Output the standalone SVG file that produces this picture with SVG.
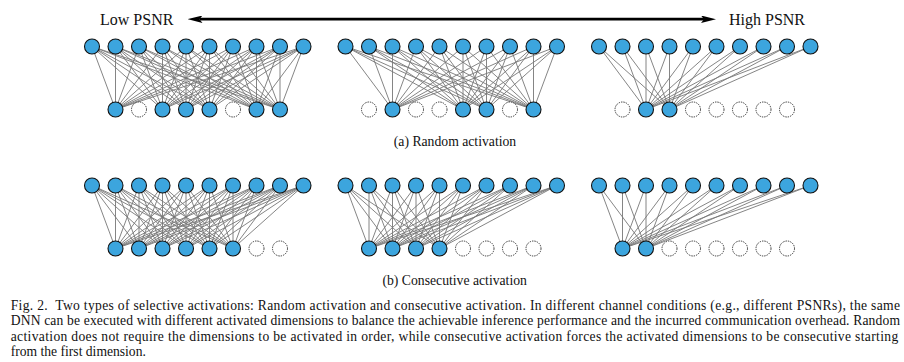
<svg xmlns="http://www.w3.org/2000/svg" xmlns:xlink="http://www.w3.org/1999/xlink" width="904" height="362" viewBox="0 0 904 362">
<style>
.n{fill:#3ca5de;stroke:#111;stroke-width:1.1}
.d{fill:#fff;stroke:#222;stroke-width:0.9;stroke-dasharray:1.4 1}
.edges{stroke:#777;stroke-width:0.9;fill:none}
.lbl{font-family:"Liberation Serif","Times New Roman",serif;font-size:16px;fill:#111}
.sub{font-family:"Liberation Serif","Times New Roman",serif;font-size:13.7px;fill:#111;text-anchor:middle}
.cap{font-family:"Liberation Serif","Times New Roman",serif;font-size:13.6px;fill:#111}
</style>
<defs>
<marker id="ah" viewBox="0 0 15 7.4" markerWidth="15" markerHeight="7.4" refX="3" refY="3.7" orient="auto-start-reverse" markerUnits="userSpaceOnUse">
<path d="M0 0L15 3.7L0 7.4L3 3.7z" fill="#000"/>
</marker>
<path id="f0" d="M0 0L23.5 63M23.5 0L23.5 63M47 0L23.5 63M70.5 0L23.5 63M94 0L23.5 63M117.5 0L23.5 63M141 0L23.5 63M164.5 0L23.5 63M188 0L23.5 63M211.5 0L23.5 63"/>
<path id="f1" d="M0 0L47 63M23.5 0L47 63M47 0L47 63M70.5 0L47 63M94 0L47 63M117.5 0L47 63M141 0L47 63M164.5 0L47 63M188 0L47 63M211.5 0L47 63"/>
<path id="f2" d="M0 0L70.5 63M23.5 0L70.5 63M47 0L70.5 63M70.5 0L70.5 63M94 0L70.5 63M117.5 0L70.5 63M141 0L70.5 63M164.5 0L70.5 63M188 0L70.5 63M211.5 0L70.5 63"/>
<path id="f3" d="M0 0L94 63M23.5 0L94 63M47 0L94 63M70.5 0L94 63M94 0L94 63M117.5 0L94 63M141 0L94 63M164.5 0L94 63M188 0L94 63M211.5 0L94 63"/>
<path id="f4" d="M0 0L117.5 63M23.5 0L117.5 63M47 0L117.5 63M70.5 0L117.5 63M94 0L117.5 63M117.5 0L117.5 63M141 0L117.5 63M164.5 0L117.5 63M188 0L117.5 63M211.5 0L117.5 63"/>
<path id="f5" d="M0 0L141 63M23.5 0L141 63M47 0L141 63M70.5 0L141 63M94 0L141 63M117.5 0L141 63M141 0L141 63M164.5 0L141 63M188 0L141 63M211.5 0L141 63"/>
<path id="f6" d="M0 0L164.5 63M23.5 0L164.5 63M47 0L164.5 63M70.5 0L164.5 63M94 0L164.5 63M117.5 0L164.5 63M141 0L164.5 63M164.5 0L164.5 63M188 0L164.5 63M211.5 0L164.5 63"/>
<path id="f7" d="M0 0L188 63M23.5 0L188 63M47 0L188 63M70.5 0L188 63M94 0L188 63M117.5 0L188 63M141 0L188 63M164.5 0L188 63M188 0L188 63M211.5 0L188 63"/>
</defs>
<rect width="904" height="362" fill="#fff"/>

<g id="psnr-axis">
<line x1="199.5" y1="19.2" x2="704" y2="19.2" stroke="#000" stroke-width="2.8" marker-start="url(#ah)" marker-end="url(#ah)"/>
<text class="lbl" x="100" y="25">Low PSNR</text>
<text class="lbl" x="729" y="25">High PSNR</text>
</g>

<g id="connectors" class="edges">
<use href="#f0" x="92" y="46.5"/><use href="#f2" x="92" y="46.5"/><use href="#f3" x="92" y="46.5"/><use href="#f4" x="92" y="46.5"/><use href="#f6" x="92" y="46.5"/><use href="#f7" x="92" y="46.5"/>
<use href="#f1" x="345.5" y="46.5"/><use href="#f4" x="345.5" y="46.5"/><use href="#f5" x="345.5" y="46.5"/><use href="#f7" x="345.5" y="46.5"/>
<use href="#f1" x="599" y="46.5"/><use href="#f2" x="599" y="46.5"/>
<use href="#f0" x="92" y="185.5"/><use href="#f1" x="92" y="185.5"/><use href="#f2" x="92" y="185.5"/><use href="#f3" x="92" y="185.5"/><use href="#f4" x="92" y="185.5"/><use href="#f5" x="92" y="185.5"/>
<use href="#f0" x="345.5" y="185.5"/><use href="#f1" x="345.5" y="185.5"/><use href="#f2" x="345.5" y="185.5"/><use href="#f3" x="345.5" y="185.5"/>
<use href="#f0" x="599" y="185.5"/><use href="#f1" x="599" y="185.5"/>
</g>

<g id="nodes">
<g id="a1t0"><circle class="n" cx="92" cy="46.5" r="7.5"/></g>
<g id="a1t1"><circle class="n" cx="115.5" cy="46.5" r="7.5"/></g>
<g id="a1t2"><circle class="n" cx="139" cy="46.5" r="7.5"/></g>
<g id="a1t3"><circle class="n" cx="162.5" cy="46.5" r="7.5"/></g>
<g id="a1t4"><circle class="n" cx="186" cy="46.5" r="7.5"/></g>
<g id="a1t5"><circle class="n" cx="209.5" cy="46.5" r="7.5"/></g>
<g id="a1t6"><circle class="n" cx="233" cy="46.5" r="7.5"/></g>
<g id="a1t7"><circle class="n" cx="256.5" cy="46.5" r="7.5"/></g>
<g id="a1t8"><circle class="n" cx="280" cy="46.5" r="7.5"/></g>
<g id="a1t9"><circle class="n" cx="303.5" cy="46.5" r="7.5"/></g>
<g id="a1b0"><circle class="n" cx="115.5" cy="109.5" r="7.5"/></g>
<g id="a1b1"><circle class="d" cx="139" cy="109.5" r="7.5"/></g>
<g id="a1b2"><circle class="n" cx="162.5" cy="109.5" r="7.5"/></g>
<g id="a1b3"><circle class="n" cx="186" cy="109.5" r="7.5"/></g>
<g id="a1b4"><circle class="n" cx="209.5" cy="109.5" r="7.5"/></g>
<g id="a1b5"><circle class="d" cx="233" cy="109.5" r="7.5"/></g>
<g id="a1b6"><circle class="n" cx="256.5" cy="109.5" r="7.5"/></g>
<g id="a1b7"><circle class="n" cx="280" cy="109.5" r="7.5"/></g>
<g id="a2t0"><circle class="n" cx="345.5" cy="46.5" r="7.5"/></g>
<g id="a2t1"><circle class="n" cx="369" cy="46.5" r="7.5"/></g>
<g id="a2t2"><circle class="n" cx="392.5" cy="46.5" r="7.5"/></g>
<g id="a2t3"><circle class="n" cx="416" cy="46.5" r="7.5"/></g>
<g id="a2t4"><circle class="n" cx="439.5" cy="46.5" r="7.5"/></g>
<g id="a2t5"><circle class="n" cx="463" cy="46.5" r="7.5"/></g>
<g id="a2t6"><circle class="n" cx="486.5" cy="46.5" r="7.5"/></g>
<g id="a2t7"><circle class="n" cx="510" cy="46.5" r="7.5"/></g>
<g id="a2t8"><circle class="n" cx="533.5" cy="46.5" r="7.5"/></g>
<g id="a2t9"><circle class="n" cx="557" cy="46.5" r="7.5"/></g>
<g id="a2b0"><circle class="d" cx="369" cy="109.5" r="7.5"/></g>
<g id="a2b1"><circle class="n" cx="392.5" cy="109.5" r="7.5"/></g>
<g id="a2b2"><circle class="d" cx="416" cy="109.5" r="7.5"/></g>
<g id="a2b3"><circle class="d" cx="439.5" cy="109.5" r="7.5"/></g>
<g id="a2b4"><circle class="n" cx="463" cy="109.5" r="7.5"/></g>
<g id="a2b5"><circle class="n" cx="486.5" cy="109.5" r="7.5"/></g>
<g id="a2b6"><circle class="d" cx="510" cy="109.5" r="7.5"/></g>
<g id="a2b7"><circle class="n" cx="533.5" cy="109.5" r="7.5"/></g>
<g id="a3t0"><circle class="n" cx="599" cy="46.5" r="7.5"/></g>
<g id="a3t1"><circle class="n" cx="622.5" cy="46.5" r="7.5"/></g>
<g id="a3t2"><circle class="n" cx="646" cy="46.5" r="7.5"/></g>
<g id="a3t3"><circle class="n" cx="669.5" cy="46.5" r="7.5"/></g>
<g id="a3t4"><circle class="n" cx="693" cy="46.5" r="7.5"/></g>
<g id="a3t5"><circle class="n" cx="716.5" cy="46.5" r="7.5"/></g>
<g id="a3t6"><circle class="n" cx="740" cy="46.5" r="7.5"/></g>
<g id="a3t7"><circle class="n" cx="763.5" cy="46.5" r="7.5"/></g>
<g id="a3t8"><circle class="n" cx="787" cy="46.5" r="7.5"/></g>
<g id="a3t9"><circle class="n" cx="810.5" cy="46.5" r="7.5"/></g>
<g id="a3b0"><circle class="d" cx="622.5" cy="109.5" r="7.5"/></g>
<g id="a3b1"><circle class="n" cx="646" cy="109.5" r="7.5"/></g>
<g id="a3b2"><circle class="n" cx="669.5" cy="109.5" r="7.5"/></g>
<g id="a3b3"><circle class="d" cx="693" cy="109.5" r="7.5"/></g>
<g id="a3b4"><circle class="d" cx="716.5" cy="109.5" r="7.5"/></g>
<g id="a3b5"><circle class="d" cx="740" cy="109.5" r="7.5"/></g>
<g id="a3b6"><circle class="d" cx="763.5" cy="109.5" r="7.5"/></g>
<g id="a3b7"><circle class="d" cx="787" cy="109.5" r="7.5"/></g>
<g id="b1t0"><circle class="n" cx="92" cy="185.5" r="7.5"/></g>
<g id="b1t1"><circle class="n" cx="115.5" cy="185.5" r="7.5"/></g>
<g id="b1t2"><circle class="n" cx="139" cy="185.5" r="7.5"/></g>
<g id="b1t3"><circle class="n" cx="162.5" cy="185.5" r="7.5"/></g>
<g id="b1t4"><circle class="n" cx="186" cy="185.5" r="7.5"/></g>
<g id="b1t5"><circle class="n" cx="209.5" cy="185.5" r="7.5"/></g>
<g id="b1t6"><circle class="n" cx="233" cy="185.5" r="7.5"/></g>
<g id="b1t7"><circle class="n" cx="256.5" cy="185.5" r="7.5"/></g>
<g id="b1t8"><circle class="n" cx="280" cy="185.5" r="7.5"/></g>
<g id="b1t9"><circle class="n" cx="303.5" cy="185.5" r="7.5"/></g>
<g id="b1b0"><circle class="n" cx="115.5" cy="248.5" r="7.5"/></g>
<g id="b1b1"><circle class="n" cx="139" cy="248.5" r="7.5"/></g>
<g id="b1b2"><circle class="n" cx="162.5" cy="248.5" r="7.5"/></g>
<g id="b1b3"><circle class="n" cx="186" cy="248.5" r="7.5"/></g>
<g id="b1b4"><circle class="n" cx="209.5" cy="248.5" r="7.5"/></g>
<g id="b1b5"><circle class="n" cx="233" cy="248.5" r="7.5"/></g>
<g id="b1b6"><circle class="d" cx="256.5" cy="248.5" r="7.5"/></g>
<g id="b1b7"><circle class="d" cx="280" cy="248.5" r="7.5"/></g>
<g id="b2t0"><circle class="n" cx="345.5" cy="185.5" r="7.5"/></g>
<g id="b2t1"><circle class="n" cx="369" cy="185.5" r="7.5"/></g>
<g id="b2t2"><circle class="n" cx="392.5" cy="185.5" r="7.5"/></g>
<g id="b2t3"><circle class="n" cx="416" cy="185.5" r="7.5"/></g>
<g id="b2t4"><circle class="n" cx="439.5" cy="185.5" r="7.5"/></g>
<g id="b2t5"><circle class="n" cx="463" cy="185.5" r="7.5"/></g>
<g id="b2t6"><circle class="n" cx="486.5" cy="185.5" r="7.5"/></g>
<g id="b2t7"><circle class="n" cx="510" cy="185.5" r="7.5"/></g>
<g id="b2t8"><circle class="n" cx="533.5" cy="185.5" r="7.5"/></g>
<g id="b2t9"><circle class="n" cx="557" cy="185.5" r="7.5"/></g>
<g id="b2b0"><circle class="n" cx="369" cy="248.5" r="7.5"/></g>
<g id="b2b1"><circle class="n" cx="392.5" cy="248.5" r="7.5"/></g>
<g id="b2b2"><circle class="n" cx="416" cy="248.5" r="7.5"/></g>
<g id="b2b3"><circle class="n" cx="439.5" cy="248.5" r="7.5"/></g>
<g id="b2b4"><circle class="d" cx="463" cy="248.5" r="7.5"/></g>
<g id="b2b5"><circle class="d" cx="486.5" cy="248.5" r="7.5"/></g>
<g id="b2b6"><circle class="d" cx="510" cy="248.5" r="7.5"/></g>
<g id="b2b7"><circle class="d" cx="533.5" cy="248.5" r="7.5"/></g>
<g id="b3t0"><circle class="n" cx="599" cy="185.5" r="7.5"/></g>
<g id="b3t1"><circle class="n" cx="622.5" cy="185.5" r="7.5"/></g>
<g id="b3t2"><circle class="n" cx="646" cy="185.5" r="7.5"/></g>
<g id="b3t3"><circle class="n" cx="669.5" cy="185.5" r="7.5"/></g>
<g id="b3t4"><circle class="n" cx="693" cy="185.5" r="7.5"/></g>
<g id="b3t5"><circle class="n" cx="716.5" cy="185.5" r="7.5"/></g>
<g id="b3t6"><circle class="n" cx="740" cy="185.5" r="7.5"/></g>
<g id="b3t7"><circle class="n" cx="763.5" cy="185.5" r="7.5"/></g>
<g id="b3t8"><circle class="n" cx="787" cy="185.5" r="7.5"/></g>
<g id="b3t9"><circle class="n" cx="810.5" cy="185.5" r="7.5"/></g>
<g id="b3b0"><circle class="n" cx="622.5" cy="248.5" r="7.5"/></g>
<g id="b3b1"><circle class="n" cx="646" cy="248.5" r="7.5"/></g>
<g id="b3b2"><circle class="d" cx="669.5" cy="248.5" r="7.5"/></g>
<g id="b3b3"><circle class="d" cx="693" cy="248.5" r="7.5"/></g>
<g id="b3b4"><circle class="d" cx="716.5" cy="248.5" r="7.5"/></g>
<g id="b3b5"><circle class="d" cx="740" cy="248.5" r="7.5"/></g>
<g id="b3b6"><circle class="d" cx="763.5" cy="248.5" r="7.5"/></g>
<g id="b3b7"><circle class="d" cx="787" cy="248.5" r="7.5"/></g>
</g>

<g id="subcaptions">
<text class="sub" x="455" y="145.5">(a) Random activation</text>
<text class="sub" x="454.7" y="284.7">(b) Consecutive activation</text>
</g>

<g id="caption">
<text class="cap" x="10.7" y="309.5" textLength="889.3" lengthAdjust="spacing">Fig. 2.&#160; Two types of selective activations: Random activation and consecutive activation. In different channel conditions (e.g., different PSNRs), the same</text>
<text class="cap" x="10.7" y="325" textLength="889.3" lengthAdjust="spacing">DNN can be executed with different activated dimensions to balance the achievable inference performance and the incurred communication overhead. Random</text>
<text class="cap" x="10.7" y="340.5" textLength="887.5" lengthAdjust="spacing">activation does not require the dimensions to be activated in order, while consecutive activation forces the activated dimensions to be consecutive starting</text>
<text class="cap" x="10.7" y="356">from the first dimension.</text>
</g>
</svg>
